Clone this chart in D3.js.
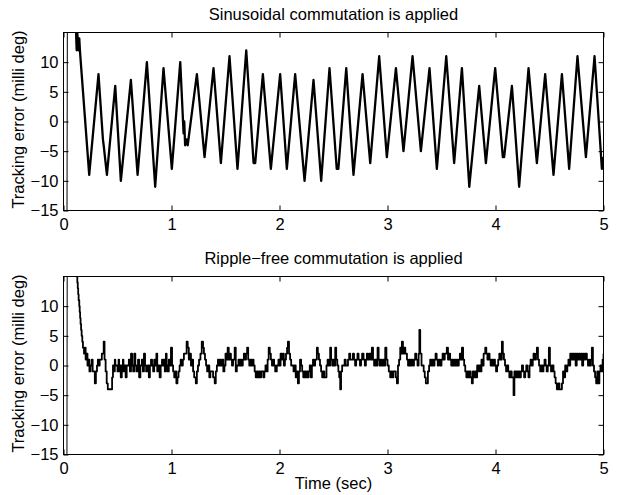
<!DOCTYPE html>
<html><head><meta charset="utf-8">
<script src="https://cdn.jsdelivr.net/npm/d3@7"></script>
<style>body{margin:0;background:#fff}</style>
</head><body>
<svg id="c" width="623" height="495"></svg>
<script>
const xTicks = [0, 1, 2, 3, 4, 5];
const yTicks = [-15, -10, -5, 0, 5, 10];
const panelTitles = ["Sinusoidal commutation is applied", "Ripple\u2212free commutation is applied"];
const yLabel = "Tracking error (milli deg)";
const xLabel = "Time (sec)";

// [time (sec), tracking error (milli deg)]
const sinusoidalError = [
[0.030,-40],[0.038,40],[0.110,20],[0.118,14],[0.122,12],[0.128,15],[0.134,13],[0.140,12],[0.146,14],[0.152,12],[0.160,10],
[0.238,-9],[0.324,8],[0.365,-3],[0.372,-4],[0.402,-9],[0.479,6],[0.531,-10],[0.624,7],[0.686,-9],[0.772,10],[0.849,-11],
[0.926,9],[1.003,-8],[1.081,10],[1.112,-2],[1.118,0],[1.126,-4],[1.140,-3],[1.150,-4],[1.235,8],[1.306,-6],[1.389,9],
[1.457,-7],[1.537,11],[1.611,-8],[1.692,12],[1.760,-7],[1.775,-7],[1.846,8],[1.920,-8],[2.006,8],[2.068,-8],[2.145,8],
[2.232,-10],[2.315,7],[2.386,-10],[2.463,9],[2.530,-8],[2.545,-8],[2.618,9],[2.685,-9],[2.769,8],[2.840,-7],[2.923,11],
[2.994,-6],[3.078,9],[3.148,-5],[3.232,11],[3.309,-5],[3.389,9],[3.457,-8],[3.544,11],[3.617,-7],[3.689,9],[3.757,-11],
[3.849,6],[3.911,-7],[3.997,9],[4.068,-6],[4.080,-6],[4.152,6],[4.219,-11],[4.306,9],[4.383,-7],[4.460,8],[4.537,-9],
[4.615,8],[4.682,-8],[4.759,11],[4.837,-6],[4.917,11],[4.985,-8],[5.000,-6]
];

const rippleFreeError = [
[0.030,-40],[0.036,40],[0.120,20],[0.124,15],[0.128,14],[0.132,13],[0.136,12],[0.140,11],[0.146,10],[0.150,9],[0.154,8],
[0.158,7],[0.163,6],[0.168,5],[0.174,4],[0.180,3],[0.190,2],[0.200,3],
[0.205,1],[0.215,2],[0.222,0],[0.232,1],[0.240,-1],[0.250,0],[0.262,1],[0.270,-1],[0.280,-1],[0.290,-3],[0.300,-1],
[0.310,0],[0.318,1],[0.325,0],[0.335,1],[0.345,1],[0.355,2],[0.372,4],[0.380,1],[0.390,-1],[0.400,-3],[0.410,-4],
[0.440,-4],[0.450,-2],[0.458,0],[0.465,-1],[0.475,1],[0.480,0],[0.495,0],[0.500,-1],[0.510,1],[0.515,-1],[0.525,0],
[0.530,-2],[0.540,0],[0.550,1],[0.555,-1],[0.565,0],[0.575,-2],[0.585,0],[0.600,0],[0.605,1],[0.615,-1],[0.625,2],
[0.635,0],[0.645,-1],[0.655,2],[0.665,0],[0.675,-1],[0.690,1],[0.700,-2],[0.712,0],[0.725,1],[0.735,-1],[0.745,2],
[0.755,0],[0.765,-1],[0.780,0],[0.790,-2],[0.800,0],[0.810,1],[0.820,0],[0.830,-1],[0.840,1],[0.850,0],[0.860,2],
[0.868,-1],[0.878,0],[0.890,-2],[0.900,0],[0.912,1],[0.920,0],[0.930,1],[0.938,-1],[0.948,2],[0.955,0],[0.965,-1],
[0.975,1],[0.985,0],[0.995,3],[1.005,0],[1.015,-1],[1.025,-2],[1.035,-1],[1.045,-3],[1.055,-2],[1.065,-1],[1.075,0],
[1.085,1],[1.095,0],[1.105,1],[1.115,2],[1.125,2],[1.140,4],[1.150,3],[1.160,1],[1.170,2],[1.180,0],[1.190,1],
[1.200,-1],[1.210,-2],[1.225,-3],[1.235,-1],[1.245,0],[1.255,1],[1.268,2],[1.280,4],[1.292,3],[1.300,2],[1.310,1],
[1.320,0],[1.330,-1],[1.340,0],[1.350,-2],[1.360,-1],[1.370,-1],[1.385,-2],[1.400,-3],[1.410,-1],[1.420,0],[1.430,1],
[1.440,0],[1.450,1],[1.460,0],[1.470,1],[1.480,-1],[1.490,0],[1.500,2],[1.510,1],[1.520,3],[1.530,1],[1.540,2],
[1.550,1],[1.560,0],[1.570,1],[1.585,3],[1.595,-1],[1.605,0],[1.620,1],[1.630,0],[1.640,1],[1.650,0],[1.660,1],
[1.670,2],[1.680,1],[1.690,2],[1.700,3],[1.710,1],[1.720,0],[1.730,1],[1.740,0],[1.750,1],[1.760,0],[1.770,-1],
[1.780,-2],[1.790,-1],[1.800,-2],[1.810,-1],[1.820,-2],[1.830,-1],[1.840,-1],[1.850,-2],[1.860,-1],[1.870,0],[1.880,-1],
[1.890,1],[1.900,3],[1.910,2],[1.920,1],[1.930,0],[1.940,1],[1.950,0],[1.960,-1],[1.975,0],[1.990,1],[2.000,0],
[2.010,2],[2.020,1],[2.030,2],[2.040,0],[2.050,1],[2.060,2],[2.070,3],[2.078,4],[2.088,2],[2.098,1],[2.108,0],
[2.120,0],[2.130,-1],[2.140,0],[2.150,-2],[2.160,-1],[2.170,-3],[2.180,-1],[2.190,1],[2.200,0],[2.210,-1],[2.220,-2],
[2.230,-1],[2.240,-2],[2.250,-1],[2.260,-2],[2.270,-1],[2.280,0],[2.290,-2],[2.300,0],[2.310,1],[2.320,0],[2.330,1],
[2.346,3],[2.355,2],[2.365,1],[2.375,0],[2.385,-1],[2.395,-2],[2.405,-1],[2.415,-2],[2.423,-2],[2.435,0],[2.445,1],
[2.455,0],[2.469,3],[2.478,1],[2.488,0],[2.498,1],[2.506,0],[2.516,3],[2.525,1],[2.535,0],[2.545,-1],[2.553,-2],
[2.562,-4],[2.570,-1],[2.580,0],[2.593,0],[2.603,1],[2.613,0],[2.624,0],[2.634,1],[2.645,2],[2.655,1],[2.668,1],
[2.680,2],[2.690,1],[2.700,0],[2.710,1],[2.722,2],[2.732,1],[2.745,0],[2.755,1],[2.765,2],[2.778,1],[2.790,0],
[2.800,1],[2.809,2],[2.820,1],[2.832,2],[2.845,1],[2.855,3],[2.866,1],[2.876,0],[2.886,1],[2.897,0],[2.908,3],
[2.918,1],[2.928,0],[2.938,1],[2.948,0],[2.958,1],[2.968,0],[2.979,3],[2.990,1],[3.000,0],[3.012,-1],[3.025,-2],
[3.035,-1],[3.045,-2],[3.055,-1],[3.065,-1],[3.077,-2],[3.087,-3],[3.097,0],[3.107,1],[3.118,3],[3.128,2],[3.133,4],
[3.143,2],[3.155,3],[3.165,2],[3.180,1],[3.190,0],[3.200,1],[3.210,0],[3.222,1],[3.235,0],[3.245,1],[3.256,2],
[3.266,1],[3.278,0],[3.288,2],[3.295,6],[3.303,2],[3.315,0],[3.327,0],[3.335,-1],[3.345,-2],[3.355,-3],[3.364,-3],
[3.374,-1],[3.385,0],[3.395,1],[3.405,0],[3.415,1],[3.425,0],[3.435,1],[3.445,2],[3.455,1],[3.465,0],[3.475,1],
[3.488,0],[3.500,1],[3.510,2],[3.520,1],[3.530,2],[3.540,2],[3.549,3],[3.560,1],[3.570,2],[3.580,1],[3.590,0],
[3.600,1],[3.610,0],[3.620,1],[3.630,0],[3.640,1],[3.650,0],[3.660,1],[3.670,2],[3.680,1],[3.689,3],[3.700,1],
[3.710,0],[3.720,-1],[3.730,-2],[3.740,-1],[3.750,-2],[3.760,-1],[3.770,-2],[3.781,-3],[3.790,-1],[3.800,-2],
[3.810,-1],[3.820,-2],[3.830,0],[3.840,-1],[3.850,0],[3.860,-1],[3.870,1],[3.880,0],[3.890,2],[3.905,3],[3.915,2],
[3.925,1],[3.935,2],[3.945,1],[3.955,0],[3.965,1],[3.975,0],[3.985,1],[3.995,0],[4.005,-1],[4.015,0],[4.025,1],
[4.035,2],[4.045,1],[4.059,4],[4.068,2],[4.078,1],[4.088,0],[4.098,-1],[4.108,0],[4.118,-1],[4.128,-2],[4.140,-1],
[4.150,-2],[4.160,-2],[4.167,-5],[4.175,-1],[4.185,-2],[4.195,-1],[4.205,-2],[4.215,-1],[4.225,-2],[4.235,-1],
[4.245,0],[4.255,-1],[4.265,-2],[4.275,-1],[4.285,0],[4.295,-1],[4.305,-2],[4.315,0],[4.325,1],[4.335,0],[4.345,1],
[4.352,2],[4.362,1],[4.375,2],[4.383,3],[4.393,1],[4.403,0],[4.414,-1],[4.424,0],[4.434,-1],[4.444,0],[4.454,1],
[4.464,0],[4.474,-1],[4.484,0],[4.494,3],[4.504,0],[4.514,-1],[4.524,0],[4.537,-1],[4.547,-2],[4.557,-3],[4.568,-4],
[4.580,-3],[4.592,-4],[4.605,-4],[4.615,-3],[4.625,-1],[4.635,-2],[4.645,0],[4.655,-1],[4.665,0],[4.675,1],[4.685,0],
[4.692,2],[4.702,1],[4.712,2],[4.722,1],[4.732,2],[4.742,0],[4.752,2],[4.762,1],[4.772,2],[4.782,1],[4.792,2],
[4.802,0],[4.812,2],[4.822,1],[4.832,2],[4.846,1],[4.856,0],[4.866,1],[4.876,0],[4.884,1],[4.892,3],[4.902,0],
[4.912,-1],[4.922,-2],[4.932,-3],[4.942,-1],[4.952,-3],[4.962,-1],[4.972,0],[4.982,-1],[4.992,1],[5.000,2]
];

const FONT = '"Liberation Sans", Arial, Helvetica, sans-serif';
const FS = 16.5;
const svg = d3.select("#c");
svg.append("rect").attr("width", 623).attr("height", 495).attr("fill", "#fff");

const L = 63.5, R = 603.5;
const panels = [
  {top: 32.5, bot: 210.5, data: sinusoidalError, title: panelTitles[0], xlab: false,
   curve: d3.curveLinear, width: 2.3},
  {top: 276.5, bot: 454.5, data: rippleFreeError, title: panelTitles[1], xlab: true,
   curve: d3.curveStepAfter, width: 1.8}
];
const x = d3.scaleLinear().domain([0, 5]).range([L, R]);

panels.forEach((p, i) => {
  const y = d3.scaleLinear().domain([-15, 15]).range([p.bot, p.top]);
  const cid = "clip" + i;
  svg.append("clipPath").attr("id", cid).append("rect")
    .attr("x", L).attr("y", p.top).attr("width", R - L).attr("height", p.bot - p.top);

  // initial transient (thin vertical stroke), then the rest of the trace
  svg.append("path").datum(p.data.slice(0, 2))
    .attr("clip-path", `url(#${cid})`)
    .attr("fill", "none").attr("stroke", "#000").attr("stroke-width", 1)
    .attr("d", d3.line().x(d => x(d[0])).y(d => y(d[1])));
  svg.append("path").datum(p.data.slice(2))
    .attr("clip-path", `url(#${cid})`)
    .attr("fill", "none").attr("stroke", "#000").attr("stroke-width", p.width)
    .attr("stroke-linejoin", "round")
    .attr("d", d3.line().curve(p.curve).x(d => x(d[0])).y(d => y(d[1])));

  const styleAxis = g => {
    g.select(".domain").remove();
    g.attr("font-size", FS).attr("font-family", FONT).attr("color", "#000");
    g.selectAll("text").attr("fill", "#000");
  };
  svg.append("g").attr("transform", `translate(0,${p.bot})`)
    .call(d3.axisBottom(x).tickValues(xTicks).tickSize(-5).tickPadding(8).tickFormat(d3.format("d")))
    .call(styleAxis);
  svg.append("g").attr("transform", `translate(0,${p.top})`)
    .call(d3.axisTop(x).tickValues(xTicks).tickSize(-5).tickFormat(""))
    .call(styleAxis);
  svg.append("g").attr("transform", `translate(${L},0)`)
    .call(d3.axisLeft(y).tickValues(yTicks).tickSize(-5).tickPadding(5).tickFormat(d3.format("d")))
    .call(styleAxis);
  svg.append("g").attr("transform", `translate(${R},0)`)
    .call(d3.axisRight(y).tickValues(yTicks).tickSize(-5).tickFormat(""))
    .call(styleAxis);

  svg.append("rect").attr("x", L).attr("y", p.top).attr("width", R - L).attr("height", p.bot - p.top)
    .attr("fill", "none").attr("stroke", "#000").attr("stroke-width", 1);

  svg.append("text").attr("x", (L + R) / 2).attr("y", p.top - 13)
    .attr("text-anchor", "middle").attr("font-family", FONT).attr("font-size", FS)
    .text(p.title);

  svg.append("text")
    .attr("transform", `translate(24,${(p.top + p.bot) / 2 - 2}) rotate(-90)`)
    .attr("text-anchor", "middle").attr("font-family", FONT).attr("font-size", FS)
    .text(yLabel);

  if (p.xlab) {
    svg.append("text").attr("x", (L + R) / 2).attr("y", 489)
      .attr("text-anchor", "middle").attr("font-family", FONT).attr("font-size", FS)
      .text(xLabel);
  }
});
</script>
</body></html>
